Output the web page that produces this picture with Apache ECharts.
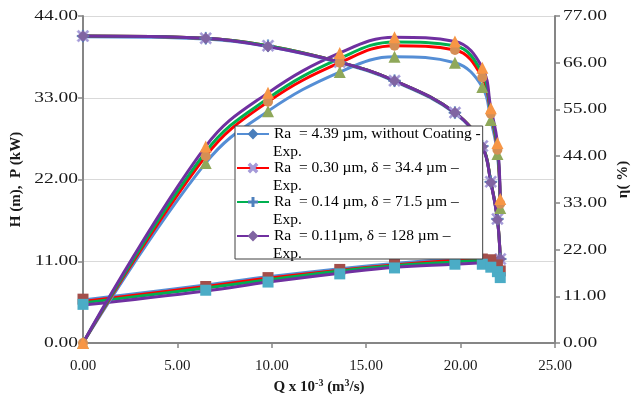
<!DOCTYPE html>
<html><head><meta charset="utf-8">
<script src="https://cdn.jsdelivr.net/npm/echarts@6.0.0/dist/echarts.min.js"></script>
<style>
html,body{margin:0;padding:0;background:#fff}
#c{width:634px;height:405px}
</style>
</head><body><div id="c"></div>
<script>
// ---- data ----
const flowRate = [0, 6.5, 9.8, 13.6, 16.5, 19.7, 21.15, 21.6, 21.95, 22.1];   // Q x 10^-3 (m3/s)

const seriesNames = [
  'Ra  = 4.39 µm, without Coating -',
  'Ra  = 0.30 µm, δ = 34.4 µm –',
  'Ra  = 0.14 µm, δ = 71.5 µm –',
  'Ra  = 0.11µm, δ = 128 µm –'
];

// Head H (m)
const headRa439 = [41.2, 40.9, 39.9, 37.7, 35.2, 30.9, 26.4, 21.6, 16.6, 11.3];
const headRa030 = [41.3, 41.0, 40.0, 37.8, 35.3, 31.0, 26.5, 21.7, 16.7, 11.3];
const headRa014 = [41.3, 41.0, 40.0, 37.8, 35.3, 31.0, 26.5, 21.7, 16.7, 11.3];
const headRa011 = [41.3, 41.0, 39.9, 37.8, 35.3, 31.0, 26.4, 21.6, 16.6, 11.3];

// Power P (kW)
const powerRa439 = [5.8, 7.8, 8.9, 10.0, 10.7, 11.3, 11.4, 11.4, 11.4, 11.4];
const powerRa030 = [5.6, 7.6, 8.7, 9.8, 10.5, 11.1, 11.2, 11.2, 11.3, 11.3];
const powerRa014 = [5.4, 7.4, 8.5, 9.7, 10.4, 10.9, 11.1, 11.1, 11.2, 11.2];
const powerRa011 = [5.1, 7.0, 8.2, 9.4, 10.2, 10.6, 10.8, 10.9, 11.0, 11.1];
const powerExpA  = [5.9, 7.6, 8.8, 9.9, 10.7, 11.3, 11.3, 11.2, 10.5, 9.7];
const powerExpB  = [5.2, 7.1, 8.2, 9.3, 10.1, 10.6, 10.6, 10.2, 9.6, 8.8];

// Efficiency η (%)
const effRa439 = [0, 42.4, 54.6, 63.8, 67.4, 66.0, 60.3, 52.5, 44.5, 31.8];
const effRa030 = [0, 44.0, 56.8, 66.0, 70.0, 69.0, 62.5, 54.0, 45.5, 32.8];
const effRa014 = [0, 45.0, 57.6, 67.0, 70.9, 70.0, 63.5, 54.5, 46.0, 33.2];
const effRa011 = [0, 46.3, 58.9, 68.3, 72.0, 71.0, 64.8, 55.3, 47.1, 33.9];

const xTicks = {min: 0, max: 25, interval: 5};
const leftTicks = {min: 0, max: 44, interval: 11};
const rightTicks = {min: 0, max: 77, interval: 11};

// ---- the reference's y-axis tick labels are horizontally stretched ----
(function () {
  const proto = CanvasRenderingContext2D.prototype;
  const orig = proto.fillText;
  proto.fillText = function (t, x, y, w) {
    if (String(this.font).indexOf('ywide') >= 0) {
      this.save();
      this.translate(x, y);
      this.scale(1.3, 1);
      orig.call(this, t, 0, 0);
      this.restore();
      return;
    }
    return w === undefined ? orig.call(this, t, x, y) : orig.call(this, t, x, y, w);
  };
})();

// ---- styles ----
const lineColors = ['#558ED5', '#FF0000', '#00B050', '#7030A0'];
const X_PATH = 'path://M0,1.3L1.3,0L5,3.7L8.7,0L10,1.3L6.3,5L10,8.7L8.7,10L5,6.3L1.3,10L0,8.7L3.7,5Z';
const PLUS_PATH = 'path://M4.4,0H5.6V4.4H10V5.6H5.6V10H4.4V5.6H0V4.4H4.4Z';
const headSymbols = ['diamond', X_PATH, PLUS_PATH, 'diamond'];
const headSymbolColors = ['#4A7EBB', '#A59AD8', '#4F81BD', '#8064A2'];
const headSymbolSizes = [10, 12, 12, 11];
const FONT = 'Liberation Serif';
const YFONT = '"Liberation Serif", ywide';

const pairs = ys => flowRate.map((q, i) => [q, ys[i]]);

const heads = [headRa439, headRa030, headRa014, headRa011];
const powers = [powerRa439, powerRa030, powerRa014, powerRa011];
const effs = [effRa439, effRa030, effRa014, effRa011];

const series = [];
powers.forEach((d, i) => series.push({
  name: 'P' + i, type: 'line', smooth: 0.4, data: pairs(d), showSymbol: false, symbol: 'none',
  lineStyle: {color: lineColors[i], width: 3}, itemStyle: {color: lineColors[i]}, z: 2
}));
effs.forEach((d, i) => series.push({
  name: 'E' + i, type: 'line', smooth: 0.4, yAxisIndex: 1, data: pairs(d), showSymbol: false, symbol: 'none',
  lineStyle: {color: lineColors[i], width: 3}, itemStyle: {color: lineColors[i]}, z: 2
}));
heads.forEach((d, i) => series.push({
  name: seriesNames[i], type: 'line', smooth: 0.4, data: pairs(d),
  symbol: headSymbols[i], symbolSize: headSymbolSizes[i], showSymbol: true,
  lineStyle: {color: lineColors[i], width: 3},
  itemStyle: {color: headSymbolColors[i], borderColor: headSymbolColors[i], borderWidth: 0.5, opacity: 1}, z: 3
}));
// experimental markers
series.push({name: 'PexpA', type: 'scatter', data: pairs(powerExpA), symbol: 'rect', symbolSize: 11,
  itemStyle: {color: '#A34E4A', opacity: 1}, z: 4});
series.push({name: 'PexpB', type: 'scatter', data: pairs(powerExpB), symbol: 'rect', symbolSize: 11,
  itemStyle: {color: '#4BACC6', opacity: 1}, z: 4});
series.push({name: 'EexpA', type: 'scatter', yAxisIndex: 1, data: pairs(effRa439), symbol: 'triangle', symbolSize: 12,
  itemStyle: {color: '#8FA85A', opacity: 1}, z: 4});
series.push({name: 'EexpB', type: 'scatter', yAxisIndex: 1, data: pairs(effRa030), symbol: 'circle', symbolSize: 10,
  itemStyle: {color: '#D58F55', opacity: 1}, z: 4});
series.push({name: 'EexpC', type: 'scatter', yAxisIndex: 1, data: pairs(effRa011), symbol: 'triangle', symbolSize: 12,
  itemStyle: {color: '#F79646', opacity: 1}, z: 4});

const labelStyle = {fontFamily: FONT, fontSize: 15, color: '#1a1a1a'};
const yLabelStyle = {fontFamily: YFONT, fontSize: 15, color: '#1a1a1a'};
const axisLineStyle = {color: '#868686', width: 2};

const option = {
  animation: false,
  backgroundColor: '#fff',
  grid: {left: 83, right: 79, top: 16, bottom: 62, containLabel: false, outerBoundsMode: 'none'},
  xAxis: {
    type: 'value', min: xTicks.min, max: xTicks.max, interval: xTicks.interval,
    axisLine: {show: true, lineStyle: axisLineStyle},
    axisTick: {show: true, length: 5, lineStyle: {color: '#868686', width: 1.5}},
    axisLabel: {...labelStyle, margin: 16, formatter: v => v.toFixed(2)},
    splitLine: {show: false},
    name: 'Q x 10{sup|-3} (m{sup|3}/s)', nameLocation: 'middle', nameGap: 33,
    nameTextStyle: {fontFamily: FONT, fontSize: 15, fontWeight: 'bold', color: '#1a1a1a',
      rich: {sup: {fontFamily: FONT, fontSize: 10, fontWeight: 'bold', verticalAlign: 'top', color: '#1a1a1a', padding: [0, 0, 6, 0]}}}
  },
  yAxis: [{
    type: 'value', min: leftTicks.min, max: leftTicks.max, interval: leftTicks.interval,
    axisLine: {show: true, lineStyle: axisLineStyle},
    axisTick: {show: true, length: 5, lineStyle: {color: '#868686', width: 1.5}},
    axisLabel: {...yLabelStyle, margin: 5, formatter: v => v.toFixed(2)},
    splitLine: {show: true, lineStyle: {color: '#D9D9D9', width: 1}},
    name: 'H (m),  P (kW)', nameLocation: 'middle', nameRotate: 90, nameGap: 59,
    nameTextStyle: {fontFamily: FONT, fontSize: 15, fontWeight: 'bold', color: '#1a1a1a'}
  }, {
    type: 'value', position: 'right', min: rightTicks.min, max: rightTicks.max, interval: rightTicks.interval,
    axisLine: {show: true, lineStyle: axisLineStyle},
    axisTick: {show: true, length: 5, lineStyle: {color: '#868686', width: 1.5}},
    axisLabel: {...yLabelStyle, margin: 8, formatter: v => v.toFixed(2)},
    splitLine: {show: false},
    name: 'η( %)', nameLocation: 'middle', nameRotate: 90, nameGap: 61,
    nameTextStyle: {fontFamily: FONT, fontSize: 15, fontWeight: 'bold', color: '#1a1a1a'}
  }],
  legend: [{
    data: seriesNames, orient: 'vertical', left: 235, top: 126,
    padding: [0, 2, 15, 1], itemGap: 18, itemWidth: 32, itemHeight: 10,
    backgroundColor: '#fff', borderColor: '#404040', borderWidth: 1, borderRadius: 0,
    textStyle: {fontFamily: FONT, fontSize: 15.5, color: '#000', lineHeight: 16},
    z: 6
  }, {
    data: seriesNames, orient: 'vertical', left: 235, top: 144,
    padding: [0, 0, 0, 1], itemGap: 18, itemWidth: 32, itemHeight: 10, icon: 'none',
    formatter: () => 'Exp.',
    textStyle: {fontFamily: FONT, fontSize: 15.5, color: '#000', lineHeight: 16},
    z: 7
  }],
  series: series
};
const chart = echarts.init(document.getElementById('c'), null, {renderer: 'canvas'});
chart.setOption(option);
</script></body></html>
